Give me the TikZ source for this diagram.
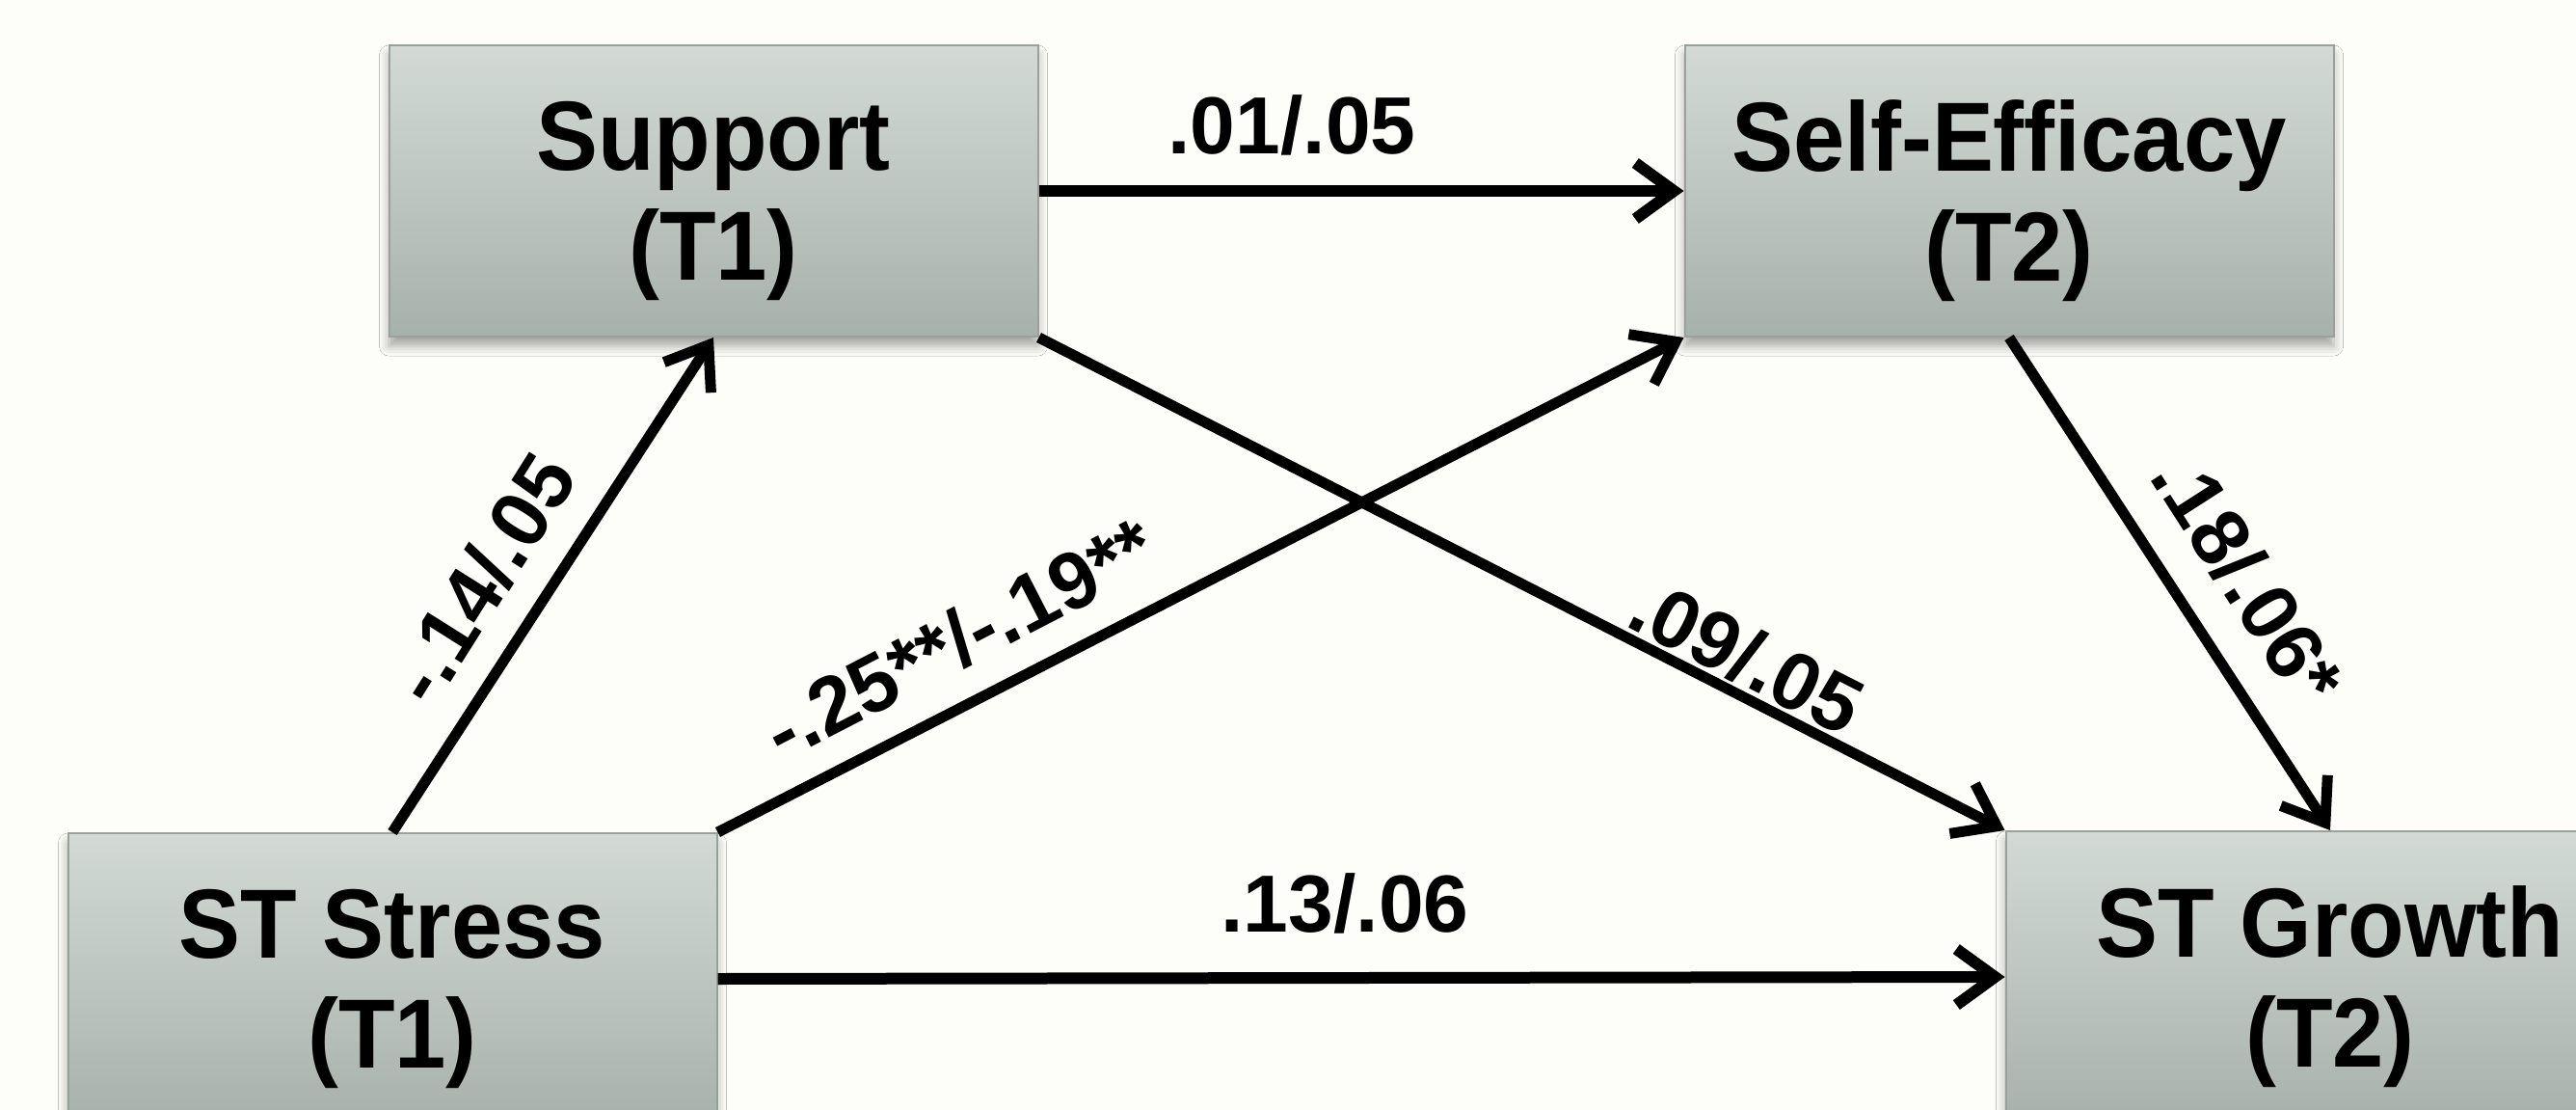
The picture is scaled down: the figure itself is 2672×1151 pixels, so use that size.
\documentclass[tikz,border=0pt]{standalone}
\usepackage{fontspec}
\setmainfont{Liberation Sans}
\newfontfamily\boxfont{Liberation Sans}[FakeStretch=0.94]
\usetikzlibrary{arrows.meta,shadows.blur,calc}
\definecolor{bg}{RGB}{253,253,249}
\definecolor{boxtop}{RGB}{211,218,214}
\definecolor{boxbot}{RGB}{167,177,171}
\definecolor{boxline}{RGB}{152,162,156}
\begin{document}
\begin{tikzpicture}[x=1pt,y=-1pt,
  varbox/.style={draw=boxline, line width=2pt, top color=boxtop, bottom color=boxbot,
    minimum width=673pt, minimum height=302pt, inner sep=0pt,
    blur shadow={shadow xshift=0pt, shadow yshift=-10pt, shadow blur radius=10pt, shadow opacity=35}},
  vartext/.style={font=\boxfont\bfseries\fontsize{102}{114}\selectfont, align=center, inner sep=0pt},
  conn/.style={line width=12pt, -{Straight Barb[length=40pt,width=58pt]}},
  diag/.style={line width=11pt, -{Straight Barb[length=40pt,width=58pt]}},
  coef/.style={font=\bfseries\fontsize{84}{90}\selectfont, inner sep=0pt}
]
\clip (0,0) rectangle (2672,1151);
\fill[bg] (0,0) rectangle (2672,1151);

% boxes
\node[varbox] (sup) at (740,198) {};
\node[varbox] (se)  at (2084,198) {};
\node[varbox] (sts) at (407,1015) {};
\node[varbox] (stg) at (2417,1013) {};

\node[vartext] (supT) at ($(sup.center)+(0,10)$) {Support\\(T1)};
\node[vartext] (seT)  at ($(se.center)+(0,10)$) {Self-Efficacy\\(T2)};
\node[vartext] (stsT) at ($(sts.center)+(0,10)$) {ST Stress\\(T1)};
\node[vartext] (stgT) at ($(stg.center)+(0,10)$) {ST Growth\\(T2)};

% connectors
\draw[conn] (sup.east) -- (se.west);
\draw[conn] (sts.east) -- (stg.west);
\draw[diag] (sts.north) -- (sup.south);
\draw[diag] (sts.north east) -- (se.south west);
\draw[diag] (sup.south east) -- (stg.north west);
\draw[diag] (se.south) -- (stg.north);

% coefficients
\node[coef] (c1) at (1340,130) {.01/.05};
\node[coef] (c2) at (1395,937) {.13/.06};
\node[coef, rotate=57.8] (c3) at (500,600) {-.14/.05};
\node[coef, rotate=27.3] (c4) at (995,662) {-.25**/-.19**};
\node[coef, rotate=-26.9] (c5) at (1812,680) {.09/.05};
\node[coef, rotate=-57.3] (c6) at (2332,600) {.18/.06*};
\end{tikzpicture}
\end{document}
